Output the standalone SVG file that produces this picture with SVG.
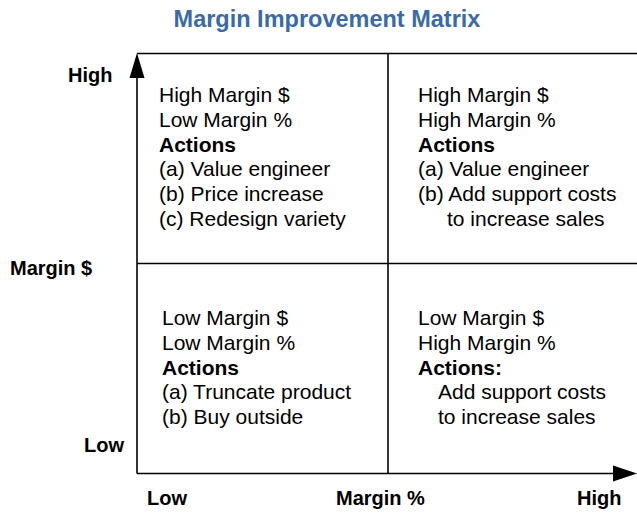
<svg xmlns="http://www.w3.org/2000/svg" width="637" height="513" viewBox="0 0 637 513">
  <style>
    .title { font-family: "Liberation Sans", Arial, sans-serif; font-size: 23.5px; font-weight: bold; fill: #3a6ba5; }
    .axis { font-family: "Liberation Sans", Arial, sans-serif; font-size: 20px; font-weight: bold; fill: #000; }
    .body { font-family: "Liberation Sans", Arial, sans-serif; font-size: 21px; fill: #000; }
    .bold { font-weight: bold; }
    .line { stroke: #000; stroke-width: 1.6; fill: none; }
  </style>

  <rect width="637" height="513" fill="#fff"/>

  <text class="title" x="327" y="27" text-anchor="middle">Margin Improvement Matrix</text>

  <!-- grid and axes -->
  <g id="connectors">
    <line class="line" x1="137" y1="53.5" x2="637" y2="53.5"/>
    <line class="line" x1="137" y1="263.5" x2="637" y2="263.5"/>
    <line class="line" x1="388" y1="53.5" x2="388" y2="473.5"/>
    <line class="line" x1="137" y1="60" x2="137" y2="473.5"/>
    <line class="line" x1="137" y1="473.5" x2="615" y2="473.5"/>
    <polygon points="137,53 129.5,78 144.5,78" fill="#000"/>
    <polygon points="637,473.5 613,465.5 613,481.5" fill="#000"/>
  </g>

  <!-- axis labels -->
  <g id="axis-labels">
    <text class="axis" x="68" y="82">High</text>
    <text class="axis" x="10" y="275">Margin $</text>
    <text class="axis" x="84" y="452">Low</text>
    <text class="axis" x="147" y="505">Low</text>
    <text class="axis" x="336" y="505">Margin %</text>
    <text class="axis" x="577" y="505">High</text>
  </g>

  <g id="quadrant-top-left">
    <text class="body" x="159" y="102">High Margin $</text>
    <text class="body" x="159" y="126.8">Low Margin %</text>
    <text class="body bold" x="159" y="151.6">Actions</text>
    <text class="body" x="159" y="176.4">(a) Value engineer</text>
    <text class="body" x="159" y="201.2">(b) Price increase</text>
    <text class="body" x="159" y="226">(c) Redesign variety</text>
  </g>

  <g id="quadrant-top-right">
    <text class="body" x="418" y="102">High Margin $</text>
    <text class="body" x="418" y="126.8">High Margin %</text>
    <text class="body bold" x="418" y="151.6">Actions</text>
    <text class="body" x="418" y="176.4">(a) Value engineer</text>
    <text class="body" x="418" y="201.2">(b) Add support costs</text>
    <text class="body" x="447" y="226">to increase sales</text>
  </g>

  <g id="quadrant-bottom-left">
    <text class="body" x="162" y="325">Low Margin $</text>
    <text class="body" x="162" y="349.8">Low Margin %</text>
    <text class="body bold" x="162" y="374.6">Actions</text>
    <text class="body" x="162" y="399.4">(a) Truncate product</text>
    <text class="body" x="162" y="424.2">(b) Buy outside</text>
  </g>

  <g id="quadrant-bottom-right">
    <text class="body" x="418" y="325">Low Margin $</text>
    <text class="body" x="418" y="349.8">High Margin %</text>
    <text class="body bold" x="418" y="374.6">Actions:</text>
    <text class="body" x="438" y="399.4">Add support costs</text>
    <text class="body" x="438" y="424.2">to increase sales</text>
  </g>
</svg>
